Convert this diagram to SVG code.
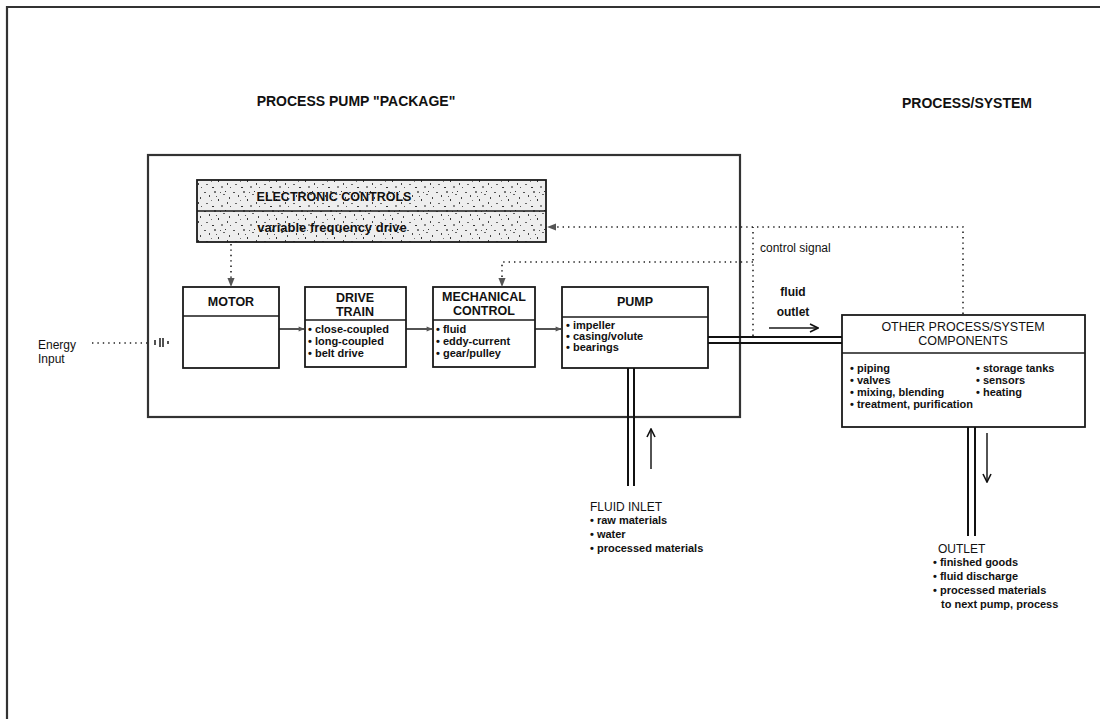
<svg xmlns="http://www.w3.org/2000/svg" width="1100" height="719" viewBox="0 0 1100 719">
<defs>
<style>
text{font-family:"Liberation Sans",Arial,sans-serif;fill:#111}
.t{font-size:14px;font-weight:bold}
.h{font-size:12.5px;font-weight:bold;text-anchor:middle}
.b{font-size:11px;font-weight:bold}
.lbl{font-size:12px;font-weight:bold}
.box{fill:#fff;stroke:#1a1a1a;stroke-width:1.8}
.div{stroke:#1a1a1a;stroke-width:1.5;fill:none}
.frame{stroke:#333;stroke-width:2.2;fill:none}
.dot{stroke:#222;stroke-width:1.6;stroke-dasharray:1.4 4;fill:none}
.ln{stroke:#1a1a1a;stroke-width:1.5;fill:none}
.pipe{stroke:#111;stroke-width:2;fill:none}
</style>
<pattern id="speck" width="29" height="19" patternUnits="userSpaceOnUse">
<rect width="29" height="19" fill="#eeeeee"/>
<rect x="1" y="2" width="2" height="1" fill="#555"/>
<rect x="6" y="5" width="1" height="2" fill="#444"/>
<rect x="11" y="1" width="2" height="2" fill="#777"/>
<rect x="15" y="9" width="1" height="2" fill="#333"/>
<rect x="20" y="4" width="2" height="1" fill="#666"/>
<rect x="24" y="12" width="1" height="2" fill="#444"/>
<rect x="3" y="13" width="2" height="1" fill="#666"/>
<rect x="9" y="16" width="2" height="1" fill="#333"/>
<rect x="18" y="15" width="2" height="2" fill="#888"/>
<rect x="26" y="7" width="1" height="2" fill="#444"/>
<rect x="13" y="6" width="1" height="1" fill="#555"/>
<rect x="8" y="10" width="1" height="1" fill="#777"/>
<rect x="22" y="1" width="1" height="1" fill="#333"/>
<rect x="17" y="2" width="1" height="1" fill="#555"/>
<rect x="27" y="16" width="1" height="1" fill="#555"/>
</pattern>
<marker id="sm" viewBox="0 0 10 10" refX="9" refY="5" markerWidth="7" markerHeight="6" orient="auto" markerUnits="userSpaceOnUse">
<path d="M0,1 L10,5 L0,9 Z" fill="#555"/>
</marker>
<marker id="ctl" viewBox="0 0 10 10" refX="9" refY="5" markerWidth="9" markerHeight="9" orient="auto" markerUnits="userSpaceOnUse">
<path d="M0,1 L10,5 L0,9 Z" fill="#555"/>
</marker>
<marker id="open" viewBox="0 0 10 10" refX="9" refY="5" markerWidth="10" markerHeight="10" orient="auto" markerUnits="userSpaceOnUse">
<path d="M1,1 L9,5 L1,9" fill="none" stroke="#111" stroke-width="1.6"/>
</marker>
</defs>
<rect width="1100" height="719" fill="#fff"/>

<g id="frame">
<path class="frame" d="M7,719 L7,7 L1100,7"/>
</g>

<g id="titles">
<text class="t" x="356" y="106" text-anchor="middle">PROCESS PUMP "PACKAGE"</text>
<text class="t" x="967" y="108" text-anchor="middle">PROCESS/SYSTEM</text>
</g>

<g id="package">
<rect x="148" y="155" width="592" height="262" fill="none" stroke="#333" stroke-width="2.2"/>
</g>

<g id="electronic-controls">
<rect x="197" y="180" width="349" height="62" fill="url(#speck)" stroke="#1a1a1a" stroke-width="1.8"/>
<line class="div" x1="197" y1="211" x2="546" y2="211"/>
<text class="h" x="334" y="201" style="font-size:12.5px">ELECTRONIC CONTROLS</text>
<text class="h" x="332" y="232" style="font-size:13px">variable frequency drive</text>
</g>

<g id="motor">
<rect class="box" x="183" y="287" width="96" height="81"/>
<line class="div" x1="183" y1="316" x2="279" y2="316"/>
<text class="h" x="231" y="306">MOTOR</text>
</g>

<g id="drive-train">
<rect class="box" x="305" y="287" width="101" height="80"/>
<line class="div" x1="305" y1="320" x2="406" y2="320"/>
<text class="h" x="355" y="302">DRIVE</text>
<text class="h" x="355" y="316">TRAIN</text>
<text class="b" x="308" y="333">• close-coupled</text>
<text class="b" x="308" y="345">• long-coupled</text>
<text class="b" x="308" y="357">• belt drive</text>
</g>

<g id="mechanical-control">
<rect class="box" x="433" y="287" width="102" height="80"/>
<line class="div" x1="433" y1="320" x2="535" y2="320"/>
<text class="h" x="484" y="301">MECHANICAL</text>
<text class="h" x="484" y="315">CONTROL</text>
<text class="b" x="436" y="333">• fluid</text>
<text class="b" x="436" y="345">• eddy-current</text>
<text class="b" x="436" y="357">• gear/pulley</text>
</g>

<g id="pump">
<rect class="box" x="562" y="287" width="146" height="81"/>
<line class="div" x1="562" y1="317" x2="708" y2="317"/>
<text class="h" x="635" y="306">PUMP</text>
<text class="b" x="566" y="329">• impeller</text>
<text class="b" x="566" y="340">• casing/volute</text>
<text class="b" x="566" y="351">• bearings</text>
</g>

<g id="other-components">
<rect class="box" x="842" y="315" width="243" height="112"/>
<line class="div" x1="842" y1="353" x2="1085" y2="353"/>
<text class="h" x="963" y="331" style="font-weight:normal;font-size:12.5px">OTHER PROCESS/SYSTEM</text>
<text class="h" x="963" y="345" style="font-weight:normal;font-size:12.5px">COMPONENTS</text>
<text class="b" x="850" y="372">• piping</text>
<text class="b" x="850" y="384">• valves</text>
<text class="b" x="850" y="396">• mixing, blending</text>
<text class="b" x="850" y="408">• treatment, purification</text>
<text class="b" x="976" y="372">• storage tanks</text>
<text class="b" x="976" y="384">• sensors</text>
<text class="b" x="976" y="396">• heating</text>
</g>

<g id="energy-input">
<text class="lbl" x="38" y="349" style="font-weight:normal">Energy</text>
<text class="lbl" x="38" y="363" style="font-weight:normal">Input</text>
</g>

<g id="fluid-inlet">
<text class="lbl" x="590" y="511" style="font-weight:normal">FLUID INLET</text>
<text class="b" x="590" y="524">• raw materials</text>
<text class="b" x="590" y="538">• water</text>
<text class="b" x="590" y="552">• processed materials</text>
</g>

<g id="outlet">
<text class="lbl" x="938" y="553" style="font-weight:normal">OUTLET</text>
<text class="b" x="933" y="566">• finished goods</text>
<text class="b" x="933" y="580">• fluid discharge</text>
<text class="b" x="933" y="594">• processed materials</text>
<text class="b" x="941" y="608">to next pump, process</text>
</g>

<g id="connectors">
<line class="dot" x1="92" y1="343" x2="147" y2="343"/>
<path class="ln" d="M155,340 L155,345 M160,338 L160,347 M163,338 L163,347 M168,341 L168,344" stroke-width="1.2"/>
<line class="ln" x1="279" y1="329" x2="304" y2="329" marker-end="url(#sm)"/>
<line class="ln" x1="406" y1="329" x2="432" y2="329" marker-end="url(#sm)"/>
<line class="ln" x1="535" y1="329" x2="561" y2="329" marker-end="url(#sm)"/>
<line class="dot" x1="231" y1="244" x2="231" y2="286" marker-end="url(#ctl)"/>
<path class="dot" d="M963,314 L963,227 L548,227" marker-end="url(#ctl)"/>
<path class="dot" d="M753,336 L753,227"/>
<path class="dot" d="M753,262 L502,262 L502,286" marker-end="url(#ctl)"/>
<text class="lbl" x="760" y="252" style="font-weight:normal">control signal</text>
<path class="pipe" d="M708,337 L842,337 M708,343 L842,343"/>
<line class="ln" x1="769" y1="328" x2="818" y2="328" marker-end="url(#open)"/>
<text class="lbl" x="793" y="296" text-anchor="middle">fluid</text>
<text class="lbl" x="793" y="316" text-anchor="middle">outlet</text>
<path class="pipe" d="M628,368 L628,486 M634,368 L634,486"/>
<line class="ln" x1="651" y1="469" x2="651" y2="429" marker-end="url(#open)"/>
<path class="pipe" d="M968,427 L968,536 M975,427 L975,536"/>
<line class="ln" x1="987" y1="433" x2="987" y2="482" marker-end="url(#open)"/>
</g>
</svg>
